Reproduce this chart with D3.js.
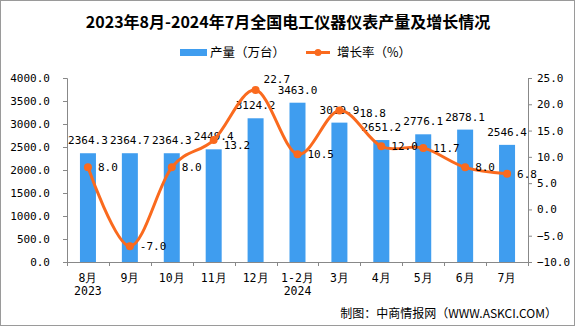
<!DOCTYPE html>
<html><head><meta charset="utf-8">
<script src="https://cdn.jsdelivr.net/npm/d3@7/dist/d3.min.js"></script>
<style>body{margin:0;background:#fff}svg{display:block}</style>
</head><body>
<svg id="c" width="575" height="326"></svg>
<script>
const categories = ["8月","9月","10月","11月","12月","1-2月","3月","4月","5月","6月","7月"];
const yearLabels = ["2023","","","","","2024","","","","",""];
const output = [2364.3, 2364.7, 2364.3, 2449.4, 3124.2, 3463.0, 3029.9, 2651.2, 2776.1, 2878.1, 2546.4];
const growth = [8.0, -7.0, 8.0, 13.2, 22.7, 10.5, 18.8, 12.0, 11.7, 8.0, 6.8];
const leftTicks = [0,500,1000,1500,2000,2500,3000,3500,4000];
const rightTicks = [-10,-5,0,5,10,15,20,25];

const svg = d3.select("#c");
const W = 575, H = 326;
const m = {l:67, r:528, t:78, b:262};
const numFont = "'DejaVu Sans Mono','Liberation Mono',monospace";
const cjkFont = "'Noto Sans CJK SC','Noto Sans',sans-serif";
const barColor = "#3F9DEF", lineColor = "#FA6A1E", axisColor = "#888";

svg.append("rect").attr("x",0.5).attr("y",0.5).attr("width",W-1).attr("height",H-1)
  .attr("fill","#fff").attr("stroke","#9a9a9a");

const x = d3.scaleBand().domain(categories).range([m.l, m.r]);
const yL = d3.scaleLinear().domain([0,4000]).range([m.b, m.t]);
const yR = d3.scaleLinear().domain([-10,25]).range([m.b, m.t]);

// title
svg.append("text").attr("x",288).attr("y",28).attr("text-anchor","middle")
  .attr("font-family",cjkFont).attr("font-weight","bold").attr("font-size",16).attr("fill","#000")
  .text("2023年8月-2024年7月全国电工仪器仪表产量及增长情况");

// legend
const lg = svg.append("g");
lg.append("rect").attr("x",180).attr("y",49).attr("width",27).attr("height",7).attr("fill",barColor);
lg.append("text").attr("x",210).attr("y",57).attr("font-family",cjkFont).attr("font-size",12.5).text("产量（万台）");
lg.append("line").attr("x1",306).attr("x2",330).attr("y1",52.5).attr("y2",52.5).attr("stroke",lineColor).attr("stroke-width",3);
lg.append("circle").attr("cx",318).attr("cy",52.5).attr("r",3.5).attr("fill",lineColor);
lg.append("text").attr("x",337).attr("y",57).attr("font-family",cjkFont).attr("font-size",12.5).text("增长率（%）");

// left axis
const axL = d3.axisLeft(yL).tickValues(leftTicks).tickSize(4).tickFormat(d3.format(".1f"));
const gL = svg.append("g").attr("transform",`translate(${m.l},0)`).call(axL);
// right axis
const axR = d3.axisRight(yR).tickValues(rightTicks).tickSize(4).tickFormat(d3.format(".1f"));
const gR = svg.append("g").attr("transform",`translate(${m.r},0)`).call(axR);
[gL,gR].forEach(g=>{
  g.select(".domain").attr("stroke",axisColor);
  g.selectAll(".tick line").attr("stroke",axisColor);
  g.selectAll(".tick text").attr("font-family",numFont).attr("font-size",11).attr("fill","#000");
});
gL.selectAll(".tick text").attr("x",-17);
gR.selectAll(".tick text").attr("x",9);

// bars
svg.append("g").selectAll("rect").data(output).join("rect")
  .attr("x",(d,i)=>x(categories[i]) + x.bandwidth()/2 - 8)
  .attr("width",16)
  .attr("y",d=>yL(d)).attr("height",d=>yL(0)-yL(d))
  .attr("fill",barColor);

// x axis
const gX = svg.append("g");
gX.append("line").attr("x1",m.l).attr("x2",m.r).attr("y1",m.b+0.5).attr("y2",m.b+0.5).attr("stroke",axisColor);
const bounds = categories.map(c=>x(c)).concat([m.r]);
gX.selectAll("line.tk").data(bounds).join("line").attr("class","tk")
  .attr("x1",d=>Math.round(d)+0.5).attr("x2",d=>Math.round(d)+0.5)
  .attr("y1",m.b).attr("y2",m.b+4).attr("stroke",axisColor);
gX.selectAll("text.cat").data(categories).join("text").attr("class","cat")
  .attr("x",d=>x(d)+x.bandwidth()/2).attr("y",282).attr("text-anchor","middle")
  .attr("font-family",numFont).attr("font-size",11.5).text(d=>d);
gX.selectAll("text.yr").data(yearLabels).join("text").attr("class","yr")
  .attr("x",(d,i)=>x(categories[i])+x.bandwidth()/2).attr("y",295).attr("text-anchor","middle")
  .attr("font-family",numFont).attr("font-size",11.5).text(d=>d);

// bar labels
svg.append("g").selectAll("text").data(output).join("text")
  .attr("x",(d,i)=>x(categories[i])+x.bandwidth()/2).attr("y",d=>yL(d)-9)
  .attr("text-anchor","middle").attr("font-family",numFont).attr("font-size",11)
  .text(d=>d.toFixed(1));

// line
const pts = growth.map((g,i)=>[x(categories[i])+x.bandwidth()/2, yR(g)]);
svg.append("path").attr("d",d3.line().curve(d3.curveCardinal.tension(0))(pts))
  .attr("fill","none").attr("stroke",lineColor).attr("stroke-width",3);
svg.append("g").selectAll("circle").data(pts).join("circle")
  .attr("cx",d=>d[0]).attr("cy",d=>d[1]).attr("r",4).attr("fill",lineColor);

// line labels
const nudge = {3:[0,5], 4:[-2,-11], 6:[10,2]};
svg.append("g").selectAll("text").data(growth).join("text")
  .attr("x",(d,i)=>pts[i][0]+10+(nudge[i]?nudge[i][0]:0))
  .attr("y",(d,i)=>pts[i][1]+4+(nudge[i]?nudge[i][1]:0))
  .attr("font-family",numFont).attr("font-size",11)
  .text(d=>d.toFixed(1));

// footer
svg.append("text").attr("x",557).attr("y",318).attr("text-anchor","end")
  .attr("font-family",cjkFont).attr("font-size",12).text("制图：中商情报网（WWW.ASKCI.COM）");
</script>
</body></html>
